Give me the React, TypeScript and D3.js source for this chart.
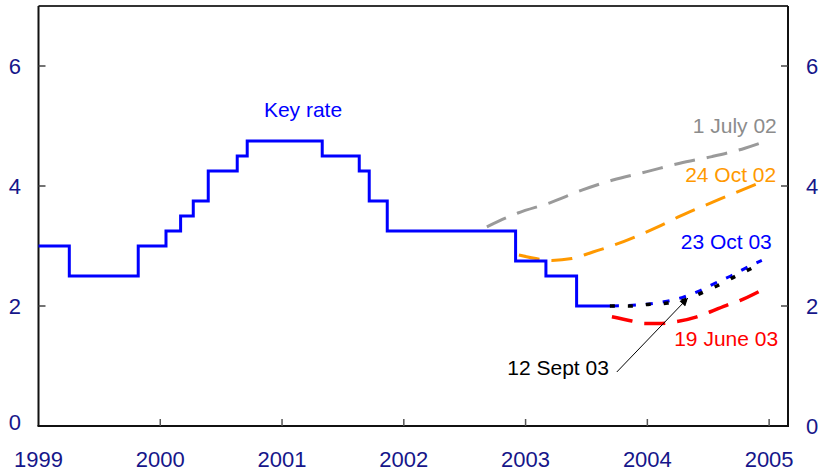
import React from "react";
import * as d3 from "d3";

const W = 822;
const H = 474;

// x values are decimal years
const yearTicks = [1999, 2000, 2001, 2002, 2003, 2004, 2005];
const yTicks = [0, 2, 4, 6];

const keyRateDates = [1999.0, 1999.253, 1999.819, 2000.047, 2000.167, 2000.271, 2000.394, 2000.632, 2000.714, 2001.33, 2001.634, 2001.716, 2001.864, 2002.918, 2003.167, 2003.419, 2003.706];
const keyRateValues = [3.0, 2.5, 3.0, 3.25, 3.5, 3.75, 4.25, 4.5, 4.75, 4.5, 4.25, 3.75, 3.25, 2.75, 2.5, 2.0, 2.0];

const july02Dates = [2002.682, 2002.937, 2003.2, 2003.462, 2003.717, 2003.996, 2004.267, 2004.53, 2004.801, 2004.948];
const july02Values = [3.32, 3.55, 3.72, 3.93, 4.1, 4.24, 4.38, 4.49, 4.63, 4.73];

const oct02Dates = [2002.945, 2003.117, 2003.216, 2003.38, 2003.553, 2003.733, 2003.897, 2004.077, 2004.25, 2004.43, 2004.594, 2004.775, 2004.931];
const oct02Values = [2.85, 2.78, 2.76, 2.79, 2.9, 3.02, 3.15, 3.31, 3.48, 3.64, 3.78, 3.93, 4.06];

const june03Dates = [2003.709, 2003.872, 2003.979, 2004.119, 2004.242, 2004.406, 2004.513, 2004.66, 2004.759, 2004.915];
const june03Values = [1.82, 1.75, 1.71, 1.71, 1.74, 1.82, 1.9, 2.02, 2.09, 2.24];

const sept03Dates = [2003.692, 2003.872, 2004.02, 2004.168, 2004.308, 2004.447, 2004.587, 2004.718, 2004.858];
const sept03Values = [2.0, 2.0, 2.03, 2.05, 2.1, 2.22, 2.35, 2.49, 2.63];

const oct03Dates = [2003.709, 2003.938, 2004.135, 2004.283, 2004.414, 2004.545, 2004.685, 2004.825, 2004.94];
const oct03Values = [2.0, 2.02, 2.07, 2.14, 2.24, 2.37, 2.5, 2.65, 2.76];

// annotation anchors (data coordinates)
const arrowFrom = [2003.749, 0.9];
const arrowTo = [2004.333, 2.133];

const AXIS_COLOR = "#16168a";
const FONT = "'Liberation Sans', Arial, Helvetica, sans-serif";

export default function App() {
  const x = d3.scaleLinear().domain([1999, 2005.155]).range([38.5, 788]);
  const y = d3.scaleLinear().domain([0, 7]).range([426, 6]);

  const zip = (ds: number[], vs: number[]) => ds.map((d, i) => [d, vs[i]] as [number, number]);

  const step = d3
    .line<[number, number]>()
    .x((d) => x(d[0]))
    .y((d) => y(d[1]))
    .curve(d3.curveStepAfter);
  const smooth = d3
    .line<[number, number]>()
    .x((d) => x(d[0]))
    .y((d) => y(d[1]))
    .curve(d3.curveMonotoneX);

  const x0 = x.range()[0];
  const x1 = x.range()[1];
  const yb = y(0);
  const yt = y(7);

  return (
    <svg
      width={W}
      height={H}
      style={{ position: "absolute", left: 0, top: 0, background: "#fff" }}
      fontFamily={FONT}
    >
      <defs>
        <marker id="arrowhead" viewBox="0 0 10 10" refX="10" refY="5" markerWidth="9" markerHeight="8" orient="auto" markerUnits="userSpaceOnUse">
          <path d="M0,0 L10,5 L0,10 z" fill="#000" />
        </marker>
      </defs>

      {/* frame */}
      <line x1={x0} x2={x1} y1={yt} y2={yt} stroke="#333" strokeWidth={2} />
      <line x1={x0} x2={x0} y1={yt} y2={yb} stroke="#111" strokeWidth={2} />
      <line x1={x1} x2={x1} y1={yt} y2={yb} stroke="#111" strokeWidth={2} />
      <line x1={x0 - 1} x2={x1 + 1} y1={yb} y2={yb} stroke="#111" strokeWidth={2} />

      {/* y ticks */}
      {yTicks.map((t) => (
        <g key={"yt" + t}>
          {t !== 0 && <line x1={x0} x2={x0 + 7} y1={y(t)} y2={y(t)} stroke="#444" strokeWidth={1.5} />}
          {t !== 0 && <line x1={x1 - 7} x2={x1} y1={y(t)} y2={y(t)} stroke="#444" strokeWidth={1.5} />}
          <text x={21} y={y(t) - (t === 0 ? 4 : 0)} dy="0.35em" textAnchor="end" fontSize={22} fill={AXIS_COLOR}>
            {t}
          </text>
          <text x={806} y={y(t)} dy="0.35em" textAnchor="start" fontSize={22} fill={AXIS_COLOR}>
            {t}
          </text>
        </g>
      ))}

      {/* x ticks */}
      {yearTicks.map((t) => (
        <g key={"xt" + t}>
          {t !== 1999 && <line x1={x(t)} x2={x(t)} y1={yb} y2={yb - 7} stroke="#555" strokeWidth={1.5} />}
          <text x={x(t)} y={467} textAnchor="middle" fontSize={22} fill={AXIS_COLOR}>
            {t}
          </text>
        </g>
      ))}

      {/* forecast curves */}
      <path d={smooth(zip(july02Dates, july02Values)) || ""} fill="none" stroke="#9a9a9a" strokeWidth={3} strokeDasharray="21 12" />
      <path d={smooth(zip(oct02Dates, oct02Values)) || ""} fill="none" stroke="#ff9900" strokeWidth={3} strokeDasharray="21 12" />
      <path d={smooth(zip(june03Dates, june03Values)) || ""} fill="none" stroke="#ff0000" strokeWidth={3.5} strokeDasharray="21 12" />

      {/* key rate */}
      <path d={step(zip(keyRateDates, keyRateValues)) || ""} fill="none" stroke="#0000ff" strokeWidth={3} strokeLinejoin="miter" />

      <path d={smooth(zip(oct03Dates, oct03Values)) || ""} fill="none" stroke="#0000ff" strokeWidth={3} strokeDasharray="7 10" />
      <path d={smooth(zip(sept03Dates, sept03Values)) || ""} fill="none" stroke="#000" strokeWidth={3.5} strokeDasharray="5 13" />

      {/* arrow */}
      <line
        x1={x(arrowFrom[0])}
        y1={y(arrowFrom[1])}
        x2={x(arrowTo[0])}
        y2={y(arrowTo[1])}
        stroke="#000"
        strokeWidth={1}
        markerEnd="url(#arrowhead)"
      />

      {/* labels */}
      <text x={x(2001.172)} y={y(5.145)} textAnchor="middle" fontSize={21} fill="#0000ff">Key rate</text>
      <text x={x(2005.063)} y={y(4.883)} textAnchor="end" fontSize={21} fill="#8c8c8c">1 July 02</text>
      <text x={x(2005.058)} y={y(4.07)} textAnchor="end" fontSize={21} fill="#ff9900">24 Oct 02</text>
      <text x={x(2005.022)} y={y(2.95)} textAnchor="end" fontSize={21} fill="#0000ff">23 Oct 03</text>
      <text x={x(2005.074)} y={y(1.34)} textAnchor="end" fontSize={21} fill="#ff0000">19 June 03</text>
      <text x={x(2003.684)} y={y(0.85)} textAnchor="end" fontSize={21} fill="#000">12 Sept 03</text>
    </svg>
  );
}
